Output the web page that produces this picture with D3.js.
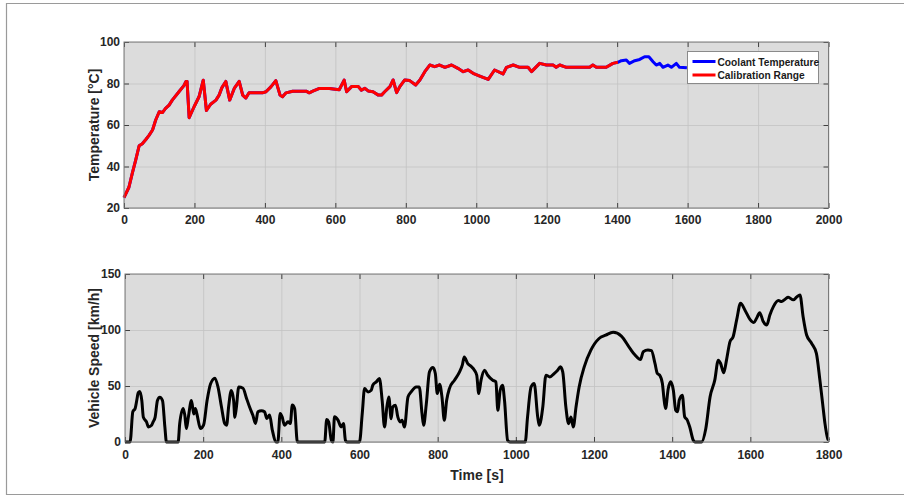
<!DOCTYPE html>
<html>
<head>
<meta charset="utf-8">
<script src="https://cdn.jsdelivr.net/npm/d3@7"></script>
<style>
  body { margin: 0; background: #fff; }
  text { font-family: "Liberation Sans", Arial, sans-serif; }
</style>
</head>
<body>
<svg id="fig" width="904" height="498"></svg>
<script>
// coolant temperature [time s, temp degC]
const coolantTemp = [[0,25],[14,30],[24,37],[33,43],[43,50],[52,51],[62,53],[71,55],[81,57.6],[90,62.4],[100,66.4],[109,66],[118,68],[128,69.6],[137,72],[156,76],[170,79],[176,81],[179,81],[185,63.5],[199,68.8],[213,73.6],[225,81.6],[234,67],[246,70],[261,72],[270,74.4],[278,78],[289,81],[300,72],[313,77.6],[327,81],[337,74.4],[346,73],[355,75.5],[393,75.5],[403,76],[417,78.4],[431,81.4],[443,74.4],[450,73.6],[460,75.5],[479,76.3],[517,76.3],[526,75.5],[536,76.3],[555,77.6],[583,77.6],[611,77],[625,81.6],[632,76],[646,78.5],[665,78.5],[674,76.8],[684,77.7],[693,76.4],[707,76],[722,74.4],[731,74.4],[740,76],[755,78.5],[764,81.7],[774,75.6],[783,78.5],[797,81.7],[811,81.4],[828,79.3],[840,81.7],[854,85.7],[868,88.9],[882,88.1],[896,88.9],[911,87.8],[930,88.9],[948,87.3],[963,85.7],[977,86.5],[991,84.9],[1010,83.6],[1034,82],[1052,86.5],[1076,84.6],[1086,87.8],[1105,88.9],[1123,87.8],[1147,87.8],[1157,85.7],[1180,89.7],[1199,88.9],[1218,88.9],[1227,87.8],[1237,88.9],[1256,87.8],[1322,87.8],[1331,88.9],[1341,87.8],[1369,87.8],[1388,89.7],[1402,90.2],[1412,91],[1426,91.3],[1435,89.7],[1450,91],[1464,91.6],[1478,92.9],[1490,92.9],[1502,90.5],[1511,88.9],[1521,89.7],[1530,87.8],[1544,88.9],[1554,87.8],[1568,89.7],[1577,87.8],[1598,87.6]];
const calibrationEnd = 1402;

// vehicle speed [time s, km/h]
const vehicleSpeed = [[0,0],[13,0],[20,27],[26,30],[30,37],[34,44],[38,45],[43,37],[47,22],[55,18],[60,13.5],[68,15],[72,18],[77,22],[83,37],[89,40],[96,37],[102,13.5],[106,0],[136,0],[140,16.5],[149,30],[153,24],[157,12],[162,22],[170,37],[176,25],[180,30],[184,25],[193,12],[201,15],[210,37],[219,52],[230,57],[238,49],[247,31],[255,16.5],[260,15],[265,31],[272,46],[278,37],[281,22],[285,31],[291,49],[302,48],[310,40],[319,31],[327,24],[334,16.5],[340,27],[349,28],[357,27],[363,21],[370,24],[377,10.5],[387,0],[391,0],[397,25.5],[402,22.5],[408,15],[417,18],[423,16.5],[428,33],[434,30],[441,0],[511,0],[516,20],[521,18],[528,1.5],[532,0],[536,22.5],[545,19.5],[553,13.5],[559,16.5],[564,1.5],[568,0],[600,0],[607,25.3],[613,47.7],[622,44.7],[630,46.2],[634,50.7],[643,53.7],[651,56.6],[658,37],[664,13.4],[670,31.3],[675,40.2],[681,20.8],[685,31.3],[692,32.8],[698,22.4],[704,17.9],[709,19.4],[715,13.4],[724,40.2],[732,44.7],[745,49.2],[753,49.2],[760,25.3],[764,14.9],[771,34.3],[779,62.6],[788,66.5],[794,61.1],[799,43.2],[805,51.6],[811,40.2],[817,19.4],[823,37.3],[830,47.7],[843,55.2],[856,62.6],[863,68.6],[868,76],[877,70],[885,67.7],[894,64.1],[900,59.6],[905,43.2],[911,55.2],[920,64.1],[928,59.6],[941,55.2],[949,53.7],[954,28.3],[960,46.2],[966,50.7],[971,37.3],[979,1.5],[985,0],[1024,0],[1030,22.4],[1039,49.2],[1047,52.2],[1056,22.4],[1060,14.9],[1069,31.3],[1077,59.6],[1087,58.1],[1098,61.1],[1107,64.1],[1114,67.1],[1120,62.6],[1128,31.3],[1135,16.4],[1141,22.4],[1147,13.4],[1154,31.3],[1162,49.2],[1175,67.1],[1192,82],[1213,92.4],[1230,95.4],[1249,98],[1270,94.6],[1292,83.6],[1305,77.6],[1319,73.7],[1326,80.6],[1338,82.1],[1347,81.5],[1356,70.1],[1362,61.2],[1368,59.7],[1375,52.2],[1379,38.8],[1383,29.9],[1390,47.8],[1396,53.7],[1403,46.3],[1409,28.4],[1414,26.9],[1418,37.3],[1426,41.8],[1432,22.4],[1438,20],[1445,13.4],[1454,1.5],[1458,0],[1475,0],[1486,11.9],[1497,40.3],[1509,55.2],[1518,73.1],[1524,70.1],[1532,61.8],[1539,73.1],[1548,89.6],[1556,94],[1565,109],[1575,123.9],[1586,117.9],[1599,109.5],[1609,106.6],[1616,110.4],[1624,115.5],[1633,107.5],[1642,104.5],[1650,113.4],[1659,120.9],[1672,126.3],[1680,125.4],[1689,127.5],[1697,129.2],[1710,126.9],[1718,129.2],[1727,131.3],[1735,111.9],[1744,95.5],[1757,88],[1769,79.1],[1778,55.2],[1785,34.3],[1791,16.4],[1798,3],[1800,1.5]];

const tempTicksX = [0, 200, 400, 600, 800, 1000, 1200, 1400, 1600, 1800, 2000];
const tempTicksY = [20, 40, 60, 80, 100];
const speedTicksX = [0, 200, 400, 600, 800, 1000, 1200, 1400, 1600, 1800];
const speedTicksY = [0, 50, 100, 150];
const legendLabels = ["Coolant Temperature", "Calibration Range"];
const legendColors = ["#0000ff", "#ff0000"];

var svg = d3.select("#fig");

// figure frame
svg.append("path")
  .attr("d", "M904,3.5H6.5V494.5H904")
  .attr("fill", "none")
  .attr("stroke", "#9a9a9a")
  .attr("stroke-width", 1.2);

function panel(opt) {
  var x = d3.scaleLinear().domain(opt.xDomain).range([opt.left, opt.right]);
  var y = d3.scaleLinear().domain(opt.yDomain).range([opt.bottom, opt.top]);
  var w = opt.right - opt.left, h = opt.bottom - opt.top;
  var fmt = d3.format("d");
  var g = svg.append("g");

  g.append("rect")
    .attr("x", opt.left).attr("y", opt.top)
    .attr("width", w).attr("height", h)
    .attr("fill", "#dcdcdc");

  // grid
  g.append("g")
    .attr("transform", "translate(0," + opt.bottom + ")")
    .call(d3.axisBottom(x).tickValues(opt.xTicks).tickSize(-h).tickFormat(""))
    .call((a) => a.select(".domain").remove())
    .selectAll("line").attr("stroke", "#c3c3c3").attr("stroke-width", 0.8);
  g.append("g")
    .attr("transform", "translate(" + opt.left + ",0)")
    .call(d3.axisLeft(y).tickValues(opt.yTicks).tickSize(-w).tickFormat(""))
    .call((a) => a.select(".domain").remove())
    .selectAll("line").attr("stroke", "#c3c3c3").attr("stroke-width", 0.8);

  // inward ticks on all four sides, labels bottom and left
  var tick = 5;
  var axes = g.append("g").attr("class", "ticks");
  var bx = axes.append("g")
    .attr("transform", "translate(0," + opt.bottom + ")")
    .call(d3.axisBottom(x).tickValues(opt.xTicks).tickSize(-tick).tickPadding(opt.xPad).tickFormat(fmt));
  axes.append("g")
    .attr("transform", "translate(0," + opt.top + ")")
    .call(d3.axisTop(x).tickValues(opt.xTicks).tickSize(-tick).tickFormat(""));
  var ly = axes.append("g")
    .attr("transform", "translate(" + opt.left + ",0)")
    .call(d3.axisLeft(y).tickValues(opt.yTicks).tickSize(-tick).tickPadding(4).tickFormat(fmt));
  axes.append("g")
    .attr("transform", "translate(" + opt.right + ",0)")
    .call(d3.axisRight(y).tickValues(opt.yTicks).tickSize(-tick).tickFormat(""));
  axes.selectAll(".domain").remove();
  axes.selectAll(".tick line").attr("stroke", "#404040");
  axes.selectAll("text")
    .attr("font-size", 12).attr("font-weight", "bold")
    .attr("fill", "#262626")
    .attr("font-family", "'Liberation Sans', Arial, sans-serif");

  // data lines
  opt.series.forEach((s) => {
    g.append("path")
      .datum(s.data)
      .attr("fill", "none")
      .attr("stroke", s.color)
      .attr("stroke-width", 3)
      .attr("stroke-linejoin", "round")
      .attr("d", d3.line().x((d) => x(d[0])).y((d) => y(d[1])).curve(s.curve));
  });

  // box
  g.append("rect")
    .attr("x", opt.left).attr("y", opt.top)
    .attr("width", w).attr("height", h)
    .attr("fill", "none")
    .attr("stroke", "#7a7a7a")
    .attr("stroke-width", 1);

  // y label
  g.append("text")
    .attr("transform", "translate(99," + (opt.top + h / 2) + ") rotate(-90)")
    .attr("text-anchor", "middle")
    .attr("font-size", 14).attr("font-weight", "bold")
    .attr("fill", "#262626")
    .text(opt.yLabel);

  return { x: x, y: y, g: g };
}

panel({
  left: 124, right: 828.5, top: 42, bottom: 208,
  xDomain: [0, 2000], yDomain: [20, 100],
  xTicks: tempTicksX, yTicks: tempTicksY, xPad: 7,
  yLabel: "Temperature [°C]",
  series: [
    { data: coolantTemp, color: legendColors[0], curve: d3.curveLinear },
    { data: coolantTemp.filter((d) => d[0] <= calibrationEnd), color: legendColors[1], curve: d3.curveLinear }
  ]
});

panel({
  left: 125, right: 828.5, top: 274, bottom: 442,
  xDomain: [0, 1800], yDomain: [0, 150],
  xTicks: speedTicksX, yTicks: speedTicksY, xPad: 8,
  yLabel: "Vehicle Speed [km/h]",
  series: [
    { data: vehicleSpeed, color: "#000000", curve: d3.curveMonotoneX }
  ]
});

// x label
svg.append("text")
  .attr("x", 477).attr("y", 480)
  .attr("text-anchor", "middle")
  .attr("font-size", 14).attr("font-weight", "bold")
  .attr("fill", "#262626")
  .text("Time [s]");

// legend
var leg = svg.append("g").attr("transform", "translate(687.5,51.5)");
leg.append("rect")
  .attr("width", 131).attr("height", 32)
  .attr("fill", "#ffffff")
  .attr("stroke", "#8a8a8a");
legendLabels.forEach((lab, i) => {
  leg.append("line")
    .attr("x1", 5).attr("x2", 28)
    .attr("y1", 10 + i * 13.5).attr("y2", 10 + i * 13.5)
    .attr("stroke", legendColors[i]).attr("stroke-width", 3);
  leg.append("text")
    .attr("x", 30).attr("y", 14 + i * 13.5)
    .attr("font-size", 10.2).attr("font-weight", "bold")
    .attr("fill", "#1a1a1a")
    .text(lab);
});
</script>
</body>
</html>
